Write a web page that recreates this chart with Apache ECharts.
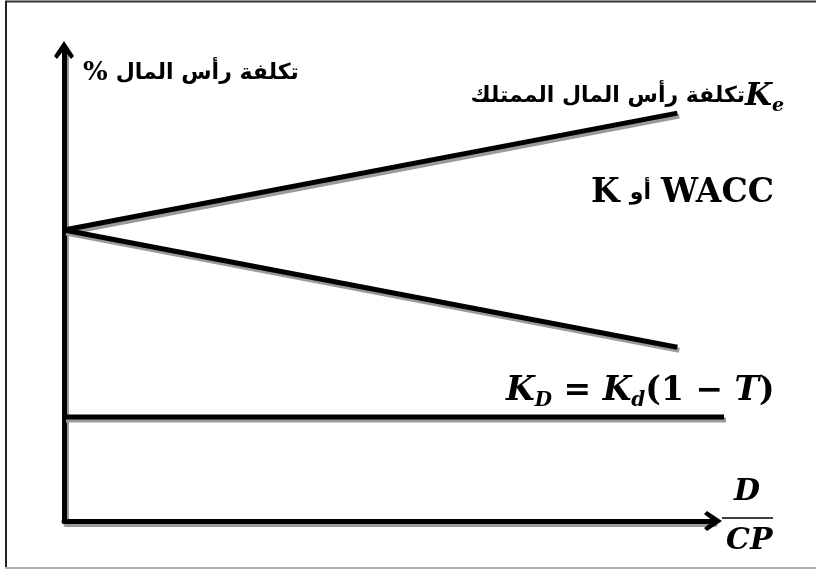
<!DOCTYPE html>
<html>
<head>
<meta charset="utf-8">
<script src="https://cdn.jsdelivr.net/npm/echarts@6/dist/echarts.min.js"></script>
<style>
  html, body { margin: 0; padding: 0; background: #fff; }
  #chart { width: 816px; height: 570px; }
</style>
</head>
<body>
<div id="chart"></div>
<script>
// values (x: D/CP, y: cost of capital %)
var keX = [0, 9.45];
var keY = [61.8, 86.6];
var waccX = [0, 9.45];
var waccY = [61.8, 36.9];
var kdX = [0, 10.17];
var kdY = [22.1, 22.1];

var yTitle = 'تكلفة رأس المال';
var keTitle = 'تكلفة رأس المال الممتلك';
var orWord = 'أو';

function pairs(xs, ys) {
  var out = [];
  for (var i = 0; i < xs.length; i++) out.push([xs[i], ys[i]]);
  return out;
}

var arrow = 'path://M10,0 L20,15 L17,18 L10,9 L3,18 L0,15 Z';
var shadow = { shadowColor: '#9a9a9a', shadowBlur: 0, shadowOffsetX: 2, shadowOffsetY: 3 };
var hidden = { show: false };

function axisStyle() {
  return {
    show: true,
    onZero: false,
    symbol: ['none', arrow],
    symbolSize: [20, 18],
    lineStyle: Object.assign({ color: '#000', width: 5 }, shadow)
  };
}

function lineSeries(name, data) {
  return {
    name: name,
    type: 'line',
    xAxisIndex: 1,
    yAxisIndex: 1,
    data: data,
    symbol: 'none',
    silent: true,
    lineStyle: Object.assign({ color: '#000', width: 5 }, shadow)
  };
}

var arabic = '"DejaVu Sans", sans-serif';
var mathF = '"DejaVu Serif", serif';
var big = { fontFamily: mathF, fontWeight: 'bold', fontStyle: 'italic', fontSize: 31, lineHeight: 38, fill: '#000' };
var up = { fontFamily: mathF, fontWeight: 'bold', fontSize: 31, lineHeight: 38, fill: '#000' };
var sub = { fontFamily: mathF, fontWeight: 'bold', fontStyle: 'italic', fontSize: 19, lineHeight: 19, verticalAlign: 'bottom', fill: '#000' };
var ar = { fontFamily: arabic, fontWeight: 'bold', fontSize: 22, lineHeight: 38, fill: '#000' };

function sized(base, size) {
  return Object.assign({}, base, { fontSize: size });
}

var chart = echarts.init(document.getElementById('chart'));
chart.setOption({
  animation: false,
  backgroundColor: '#fff',
  grid: [
    { left: 64, right: 103, top: 50, bottom: 49 },
    { left: 64, right: 90, top: 50, bottom: 49 }
  ],
  xAxis: [
    { type: 'value', gridIndex: 0, min: 0, max: 10, axisLine: axisStyle(),
      axisTick: hidden, axisLabel: hidden, splitLine: hidden },
    { type: 'value', gridIndex: 1, min: 0, max: 10.2, axisLine: hidden,
      axisTick: hidden, axisLabel: hidden, splitLine: hidden }
  ],
  yAxis: [
    { type: 'value', gridIndex: 0, min: 0, max: 100, axisLine: axisStyle(),
      axisTick: hidden, axisLabel: hidden, splitLine: hidden },
    { type: 'value', gridIndex: 1, min: 0, max: 100, axisLine: hidden,
      axisTick: hidden, axisLabel: hidden, splitLine: hidden }
  ],
  series: [
    lineSeries('Ke', pairs(keX, keY)),
    lineSeries('WACC', pairs(waccX, waccY)),
    lineSeries('KD', pairs(kdX, kdY))
  ],
  graphic: [
    // frame
    { type: 'line', shape: { x1: 5, y1: 1.5, x2: 816, y2: 1.5 }, style: { stroke: '#333', lineWidth: 2 } },
    { type: 'line', shape: { x1: 6, y1: 1, x2: 6, y2: 568 }, style: { stroke: '#222', lineWidth: 2 } },
    { type: 'line', shape: { x1: 5, y1: 568, x2: 816, y2: 568 }, style: { stroke: '#b0b0b0', lineWidth: 2 } },
    // y axis title
    {
      type: 'text', left: 83, top: 60,
      style: {
        text: '{p|%}{a|' + yTitle + '}',
        rich: { p: Object.assign({}, up, { fontSize: 26, padding: [0, 8, 0, 0] }), a: ar }
      }
    },
    // Ke label
    {
      type: 'text', right: 816 - 784, top: 81,
      style: {
        text: '{a|' + keTitle + '}{k|K}{s|e}',
        rich: { a: ar, k: big, s: sub }
      }
    },
    // WACC label
    {
      type: 'text', right: 816 - 774, top: 177,
      style: {
        text: '{k|K}{a|' + orWord + '}{w|WACC}',
        rich: {
          k: sized(up, 33),
          a: Object.assign({}, ar, { padding: [0, 10, 0, 10] }),
          w: sized(up, 33)
        }
      }
    },
    // KD label
    {
      type: 'text', left: 506, top: 375,
      style: {
        text: '{k|K}{s|D}{o| = }{k|K}{s|d}{o|(1 − }{k|T}{o|)}',
        rich: { k: sized(big, 33), s: sized(sub, 20), o: sized(up, 33) }
      }
    },
    // D / CP
    {
      type: 'text', left: 734, top: 477,
      style: { text: 'D', font: 'bold italic 30px "DejaVu Serif", serif', fill: '#000' }
    },
    { type: 'line', shape: { x1: 722, y1: 518, x2: 773, y2: 518 }, style: { stroke: '#000', lineWidth: 1.5 } },
    {
      type: 'text', left: 726, top: 526,
      style: { text: 'CP', font: 'bold italic 30px "DejaVu Serif", serif', fill: '#000' }
    }
  ]
});
</script>
</body>
</html>
